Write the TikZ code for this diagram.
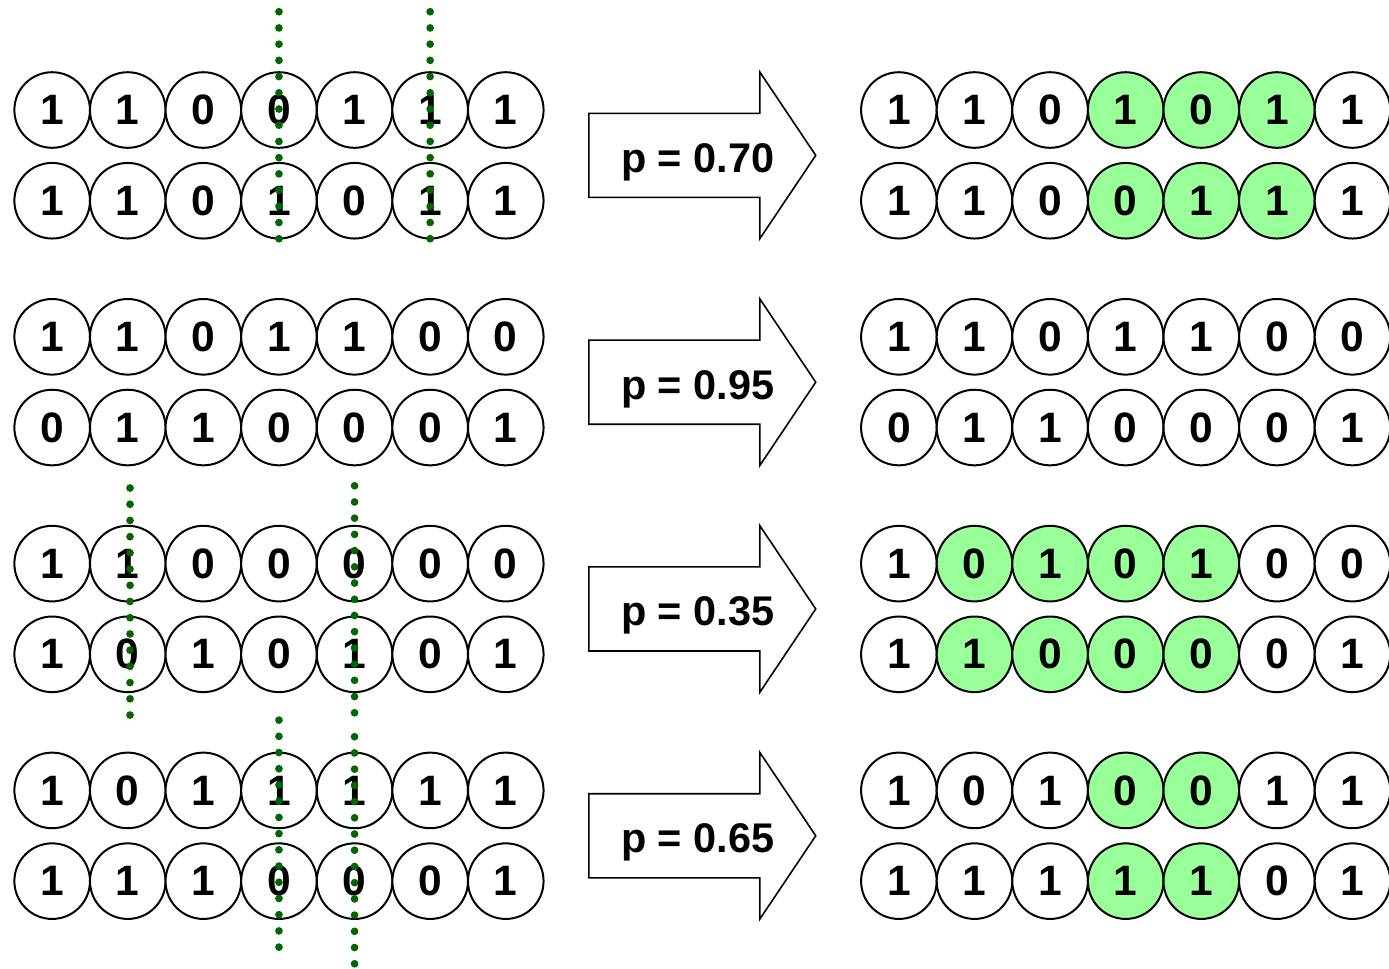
\documentclass[tikz,border=0pt]{standalone}
\usepackage{fontspec}
\setmainfont{Liberation Sans}
\definecolor{swapgreen}{RGB}{153,255,153}
\definecolor{cutgreen}{RGB}{0,102,0}
\tikzset{
gene/.style={circle,draw=black,line width=0.75pt,minimum size=1cm,inner sep=0pt,font=\fontsize{16}{18}\selectfont\bfseries},
cut/.style={draw=cutgreen,line width=2.9pt,line cap=round,dash pattern=on 0pt off 0.2145cm},
prob/.style={anchor=base,inner sep=0pt,font=\fontsize{15.6}{18}\selectfont\bfseries}
}
% #1 name, #2 y, #3 and #4 first and last swapped gene, #5 genes
\newcommand{\chrom}[5]{
\foreach \g [count=\i] in {#5}{
\ifnum\i<#3 \def\fc{white}\else\ifnum\i>#4 \def\fc{white}\else\def\fc{swapgreen}\fi\fi
\node[gene,fill=\fc] (#1\i) at (\i-1,#2) {\g};
}}
\newcommand{\blockarrow}{
\draw[line width=0.6pt,line join=miter] (0,0.556) -- (2.262,0.556) -- (2.262,1.1) -- (3.0,0)
-- (2.262,-1.1) -- (2.262,-0.556) -- (0,-0.556) -- cycle;}

\begin{document}
\begin{tikzpicture}
\useasboundingbox (0,0) rectangle (18.373,-12.817);

% crossover 1
\begin{scope}[shift={(0.69,-1.455)}]
\chrom{p1a}{0}{0}{0}{1,1,0,0,1,1,1}
\chrom{p1b}{-1.2}{0}{0}{1,1,0,1,0,1,1}
\end{scope}
\begin{scope}[shift={(7.79,-2.055)}]
\blockarrow
\node[prob] (r1) at (1.44,-0.225) {p = 0.70};
\end{scope}
\begin{scope}[shift={(11.89,-1.455)}]
\chrom{c1a}{0}{4}{6}{1,1,0,1,0,1,1}
\chrom{c1b}{-1.2}{4}{6}{1,1,0,0,1,1,1}
\end{scope}

% crossover 2
\begin{scope}[shift={(0.69,-4.455)}]
\chrom{p2a}{0}{0}{0}{1,1,0,1,1,0,0}
\chrom{p2b}{-1.2}{0}{0}{0,1,1,0,0,0,1}
\end{scope}
\begin{scope}[shift={(7.79,-5.055)}]
\blockarrow
\node[prob] (r2) at (1.44,-0.225) {p = 0.95};
\end{scope}
\begin{scope}[shift={(11.89,-4.455)}]
\chrom{c2a}{0}{0}{0}{1,1,0,1,1,0,0}
\chrom{c2b}{-1.2}{0}{0}{0,1,1,0,0,0,1}
\end{scope}

% crossover 3
\begin{scope}[shift={(0.69,-7.455)}]
\chrom{p3a}{0}{0}{0}{1,1,0,0,0,0,0}
\chrom{p3b}{-1.2}{0}{0}{1,0,1,0,1,0,1}
\end{scope}
\begin{scope}[shift={(7.79,-8.055)}]
\blockarrow
\node[prob] (r3) at (1.44,-0.225) {p = 0.35};
\end{scope}
\begin{scope}[shift={(11.89,-7.455)}]
\chrom{c3a}{0}{2}{5}{1,0,1,0,1,0,0}
\chrom{c3b}{-1.2}{2}{5}{1,1,0,0,0,0,1}
\end{scope}

% crossover 4
\begin{scope}[shift={(0.69,-10.455)}]
\chrom{p4a}{0}{0}{0}{1,0,1,1,1,1,1}
\chrom{p4b}{-1.2}{0}{0}{1,1,1,0,0,0,1}
\end{scope}
\begin{scope}[shift={(7.79,-11.055)}]
\blockarrow
\node[prob] (r4) at (1.44,-0.225) {p = 0.65};
\end{scope}
\begin{scope}[shift={(11.89,-10.455)}]
\chrom{c4a}{0}{4}{5}{1,0,1,0,0,1,1}
\chrom{c4b}{-1.2}{4}{5}{1,1,1,1,1,0,1}
\end{scope}

% cut points
\draw[cut] ([yshift=1.3cm]p1a4.center) -- ++(0,-3.01);
\draw[cut] ([yshift=1.3cm]p1a6.center) -- ++(0,-3.01);
\draw[cut] ([xshift=0.03cm,yshift=1.0cm]p3a2.center) -- ++(0,-3.01);
\draw[cut] ([yshift=1.03cm]p3a5.center) -- ++(0,-3.01);
\draw[cut] ([yshift=0.93cm]p4a4.center) -- ++(0,-3.01);
\draw[cut] ([yshift=0.71cm]p4a5.center) -- ++(0,-3.01);

\end{tikzpicture}
\end{document}
